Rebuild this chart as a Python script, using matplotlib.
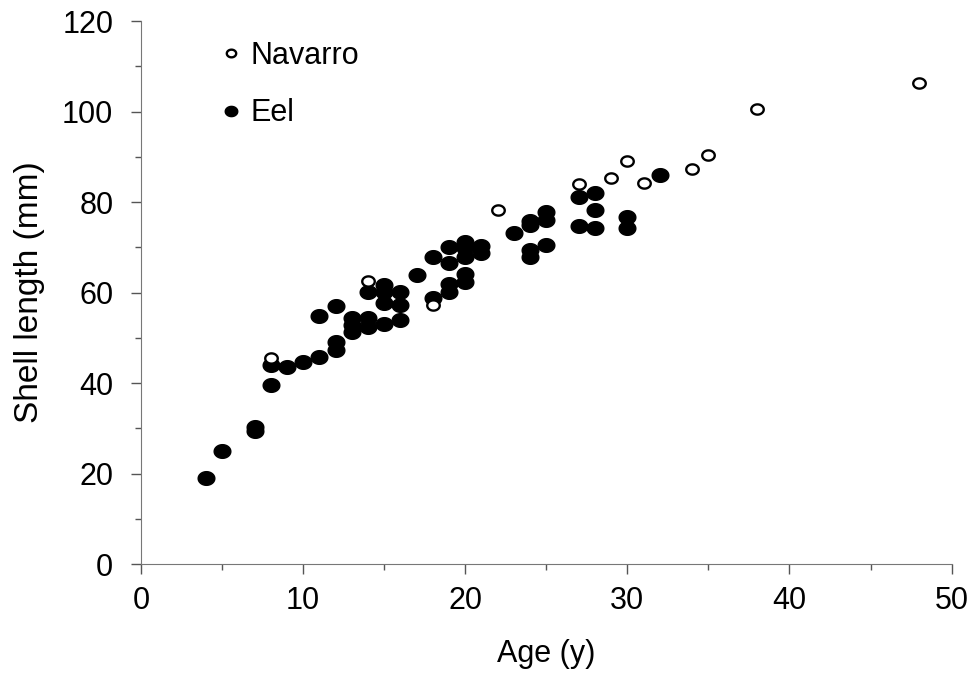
import matplotlib
matplotlib.use('Agg')
import matplotlib.pyplot as plt
import numpy as np
from matplotlib.path import Path
from matplotlib.ticker import MultipleLocator

# Navarro (open circles)
nav_age = [8, 14, 18, 22, 27, 29, 30, 31, 34, 35, 38, 48]
nav_len = [45.6, 62.5, 57.2, 78.2, 84.0, 85.4, 89.0, 84.1, 87.2, 90.4, 100.5, 106.4]

# Eel (filled circles)
eel_age = [4, 5, 7, 7, 8, 8, 9, 10, 11, 11, 12, 12, 12,
           13, 13, 13, 14, 14, 14, 15, 15, 15, 15,
           16, 16, 16, 17, 18, 18, 19, 19, 19, 19,
           20, 20, 20, 20, 20, 21, 21, 23, 24, 24, 24, 24,
           25, 25, 25, 27, 27, 28, 28, 28, 30, 30, 32]
eel_len = [19.1, 24.9, 30.3, 29.3, 39.6, 44.0, 43.6, 44.7, 45.8, 54.8, 47.2, 49.1, 57.0,
           51.3, 52.8, 54.3, 52.4, 54.3, 60.2, 53.0, 57.6, 60.2, 61.7,
           53.9, 57.2, 60.2, 63.9, 58.7, 67.9, 60.2, 62.0, 66.6, 70.0,
           62.4, 64.2, 67.9, 69.8, 71.2, 68.8, 70.2, 73.2, 67.9, 69.4, 74.9, 75.9,
           70.5, 76.0, 77.9, 74.7, 81.2, 74.2, 78.2, 81.9, 74.2, 76.8, 85.9]

# slightly flattened circle like the original
t = np.linspace(0, 2 * np.pi, 60)
ell = Path(np.column_stack([np.cos(t), 0.82 * np.sin(t)]), closed=True)

plt.rcParams['font.family'] = ['Liberation Sans', 'DejaVu Sans']

fig = plt.figure(figsize=(9.73, 6.78), dpi=100)
ax = fig.add_axes([0.145, 0.168, 0.833, 0.801])

ax.plot(eel_age, eel_len, linestyle='none', marker=ell, markersize=12,
        markerfacecolor='black', markeredgecolor='black', label='Eel')
ax.plot(nav_age, nav_len, linestyle='none', marker=ell, markersize=9,
        markerfacecolor='white', markeredgecolor='black', markeredgewidth=1.7,
        label='Navarro')

ax.set_xlim(0, 50)
ax.set_ylim(0, 120)
ax.xaxis.set_major_locator(MultipleLocator(10))
ax.xaxis.set_minor_locator(MultipleLocator(5))
ax.yaxis.set_major_locator(MultipleLocator(20))
ax.yaxis.set_minor_locator(MultipleLocator(10))
ax.tick_params(which='major', direction='out', length=7, width=1, color='#555555',
               labelsize=22)
ax.tick_params(which='minor', direction='out', length=4, width=1, color='#555555')
ax.tick_params(axis='y', which='major', pad=13)
ax.tick_params(axis='x', which='major', pad=9)

for s in ['top', 'right']:
    ax.spines[s].set_visible(False)
for s in ['left', 'bottom']:
    ax.spines[s].set_color('#777777')

ax.set_xlabel('Age (y)', fontsize=22, labelpad=16)
ax.set_ylabel('Shell length (mm)', fontsize=24, labelpad=12)

h, l = ax.get_legend_handles_labels()
ax.legend(h[::-1], l[::-1], loc='upper left', bbox_to_anchor=(0.069, 0.997),
          frameon=False, fontsize=22, handletextpad=0.16, labelspacing=0.9,
          handlelength=1.0, markerscale=0.75, borderaxespad=0.2)

fig.savefig('out.png', dpi=100)
